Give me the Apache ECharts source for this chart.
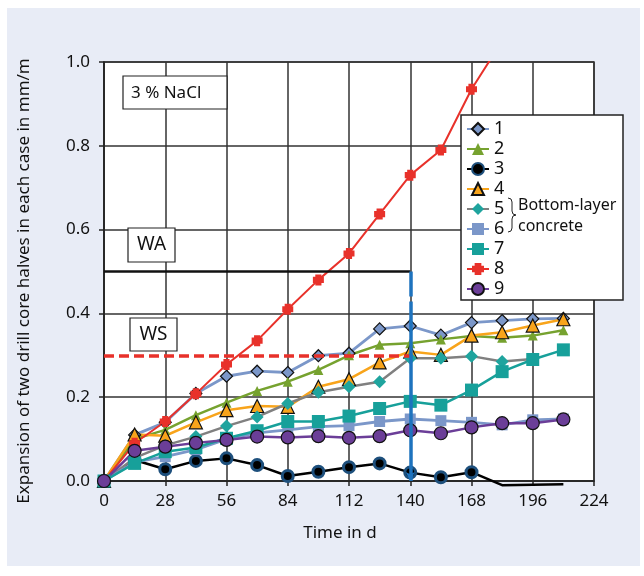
<!DOCTYPE html>
<html><head><meta charset="utf-8">
<script src="https://cdn.jsdelivr.net/npm/echarts@6/dist/echarts.min.js"></script>
<style>
html,body{margin:0;padding:0;background:#fff;}
#panel{position:absolute;left:7px;top:8px;width:633px;height:558px;background:#e8ecf6;}
#chart{position:absolute;left:0;top:0;width:644px;height:576px;}
</style></head><body>
<div id="panel"></div><div id="chart"></div>
<script>
const days = [0,14,28,42,56,70,84,98,112,126,140,154,168,182,196,210];
const s1 = [0,0.11,0.14,0.209,0.25,0.262,0.259,0.299,0.305,0.363,0.37,0.348,0.378,0.383,0.387,0.388];
const s2 = [0,0.1,0.122,0.157,0.187,0.215,0.237,0.265,0.30,0.325,0.329,0.338,0.346,0.342,0.347,0.36];
const s3 = [0,0.05,0.028,0.048,0.054,0.038,0.012,0.022,0.033,0.042,0.02,0.009,0.021,-0.01,-0.009,-0.008];
const s3MarkedCount = 13;
const s4 = [0,0.111,0.108,0.14,0.169,0.179,0.177,0.225,0.243,0.283,0.309,0.301,0.347,0.355,0.371,0.386];
const s5 = [0,0.055,0.085,0.106,0.131,0.153,0.185,0.212,0.225,0.237,0.293,0.293,0.298,0.285,0.291];
const s6 = [0,0.045,0.058,0.075,0.1,0.115,0.122,0.13,0.132,0.142,0.148,0.144,0.14,0.134,0.146,0.148];
const s7 = [0,0.042,0.07,0.08,0.102,0.12,0.142,0.142,0.155,0.173,0.19,0.181,0.217,0.261,0.29,0.313];
const s8 = [0,0.09,0.142,0.208,0.278,0.335,0.41,0.48,0.543,0.637,0.73,0.79,0.935,1.05];
const s9 = [0,0.072,0.082,0.091,0.098,0.106,0.104,0.107,0.103,0.107,0.121,0.114,0.128,0.138,0.138,0.147];
const seriesNames = ['1','2','3','4','5','6','7','8','9'];
const xTicks = [0,28,56,84,112,140,168,196,224];
const yTicks = [0,0.2,0.4,0.6,0.8,1.0];
const waLevel = 0.5, wsLevel = 0.3, limitDay = 140, blueDashEnd = 0.37;
const yTitle = 'Expansion of two drill core halves in each case in mm/m';
const xTitle = 'Time in d';

const FONT = '"Noto Sans", "Open Sans", sans-serif';
const pairs = (vals) => vals.map((v,i)=>[days[i], v]);
const s3Data = s3.map((v,i)=> i < s3MarkedCount ? [days[i], v] : {value:[days[i], v], symbol:'none'});
const plusPath = 'path://M2.2,0H7.8V2.2H10V7.8H7.8V10H2.2V7.8H0V2.2H2.2Z';

function ser(name, data, lineColor, symbol, size, fill, border, bw, lw, extra){
  return Object.assign({
    name, type:'line', data, symbol, symbolSize:size, showSymbol:true,
    lineStyle:{color:lineColor, width:lw},
    itemStyle:{color:fill, borderColor:border||fill, borderWidth:bw||0},
    emphasis:{disabled:true}, z:2, silent:true
  }, extra||{});
}

const chart = echarts.init(document.getElementById('chart'), null, {renderer:'canvas'});
const option = {
  animation:false,
  textStyle:{fontFamily:FONT},
  grid:{left:104, right:50, top:62, bottom:95, show:true, backgroundColor:'#fff', borderColor:'#333', borderWidth:1.5},
  xAxis:{type:'value', min:xTicks[0], max:xTicks[xTicks.length-1], interval:28,
    axisLine:{show:true, onZero:false, lineStyle:{color:'#222', width:1.5}},
    axisTick:{show:true, inside:false, length:5, lineStyle:{color:'#222', width:1.5}},
    axisLabel:{fontSize:17, color:'#111', margin:12, fontFamily:FONT},
    splitLine:{show:true, lineStyle:{color:'#333', width:1.5}}},
  yAxis:{type:'value', min:yTicks[0], max:yTicks[yTicks.length-1], interval:0.2,
    axisLine:{show:true, onZero:false, lineStyle:{color:'#222', width:1.5}},
    axisTick:{show:true, inside:false, length:5, lineStyle:{color:'#222', width:1.5}},
    axisLabel:{fontSize:17, color:'#111', margin:14, fontFamily:FONT, formatter:v=>v.toFixed(1)},
    splitLine:{show:true, lineStyle:{color:'#333', width:1.5}}},
  legend:{data:seriesNames, orient:'vertical', left:466, top:119, padding:0, itemGap:0,
    itemWidth:22, itemHeight:15, z:10,
    textStyle:{fontSize:18, color:'#111', fontFamily:FONT, lineHeight:20}},
  graphic:[
    {type:'rect', z:8, shape:{x:461, y:115, width:162, height:185}, style:{fill:'#fff', stroke:'#222', lineWidth:1.5}},
    {type:'polyline', z:11, shape:{points:[[508,198],[511,199],[512,202],[512,211],[513,214],[516,215],[513,216],[512,219],[512,228],[511,231],[508,232]]}, style:{fill:null, stroke:'#222', lineWidth:1}},
    {type:'text', z:11, x:518, y:205, style:{text:'Bottom-layer', font:'16px '+FONT, fill:'#111', textVerticalAlign:'middle'}},
    {type:'text', z:11, x:518, y:226, style:{text:'concrete', font:'16px '+FONT, fill:'#111', textVerticalAlign:'middle'}},
    {type:'rect', z:8, shape:{x:123, y:76, width:104, height:33}, style:{fill:'#fff', stroke:'#222', lineWidth:1.2}},
    {type:'text', z:9, x:131, y:93, style:{text:'3 % NaCl', font:'17px '+FONT, fill:'#111', textVerticalAlign:'middle'}},
    {type:'rect', z:8, shape:{x:128, y:228, width:47, height:34}, style:{fill:'#fff', stroke:'#222', lineWidth:1.2}},
    {type:'text', z:9, x:151.5, y:245, style:{text:'WA', font:'19px '+FONT, fill:'#111', textAlign:'center', textVerticalAlign:'middle'}},
    {type:'rect', z:8, shape:{x:130, y:318, width:47, height:33}, style:{fill:'#fff', stroke:'#222', lineWidth:1.2}},
    {type:'text', z:9, x:153.5, y:334.5, style:{text:'WS', font:'19px '+FONT, fill:'#111', textAlign:'center', textVerticalAlign:'middle'}},
    {type:'text', z:9, x:24, y:281, rotation:Math.PI/2, style:{text:yTitle, font:'17px '+FONT, fill:'#111', textAlign:'center', textVerticalAlign:'middle'}},
    {type:'text', z:9, x:340, y:533, style:{text:xTitle, font:'17px '+FONT, fill:'#111', textAlign:'center', textVerticalAlign:'middle'}}
  ],
  series:[
    {name:'ref', type:'line', data:[], z:1, silent:true,
      markLine:{silent:true, symbol:'none', label:{show:false}, emphasis:{disabled:true},
        data:[
          [{coord:[0,waLevel], lineStyle:{color:'#111', width:2.5, type:'solid'}},{coord:[limitDay,waLevel]}],
          [{coord:[0,wsLevel], lineStyle:{color:'#e8312a', width:3.5, type:[10,5]}},{coord:[limitDay,wsLevel]}]
        ]}},
    ser('1', pairs(s1), '#7b97c9', 'diamond', 12, '#7b97c9', '#111', 1.2, 2.8),
    ser('2', pairs(s2), '#76a22f', 'triangle', 10, '#76a22f', null, 0, 2.5),
    ser('3', s3Data, '#000', 'circle', 11, '#000', '#1d4f7c', 3, 2.5, {clip:false}),
    ser('4', pairs(s4), '#f8a41b', 'triangle', 13, '#f8a41b', '#111', 1.2, 2.5),
    ser('5', pairs(s5), '#808080', 'diamond', 13, '#1fa49e', null, 0, 2.5),
    ser('6', pairs(s6), '#7b97c9', 'rect', 11, '#7b97c9', null, 0, 2.8),
    ser('7', pairs(s7), '#17a09a', 'rect', 13, '#17a09a', null, 0, 2.5),
    ser('8', pairs(s8), '#e8312a', plusPath, 11, '#e8312a', null, 0, 2),
    ser('9', pairs(s9), '#6b3e98', 'circle', 13, '#6b3e98', '#111', 1.2, 2.5),
    {name:'limit', type:'line', data:[], z:3, silent:true,
      markLine:{silent:true, label:{show:false}, emphasis:{disabled:true},
        data:[
          [{coord:[limitDay,waLevel], symbol:'none', lineStyle:{color:'#1e73be', width:3.5, type:[25,5]}},{coord:[limitDay,blueDashEnd], symbol:'none'}],
          [{coord:[limitDay,blueDashEnd], symbol:'none', lineStyle:{color:'#1e73be', width:3.5, type:'solid'}},{coord:[limitDay,0], symbol:'arrow', symbolSize:[7,9]}]
        ]}}
  ]
};
chart.setOption(option);
</script></body></html>
